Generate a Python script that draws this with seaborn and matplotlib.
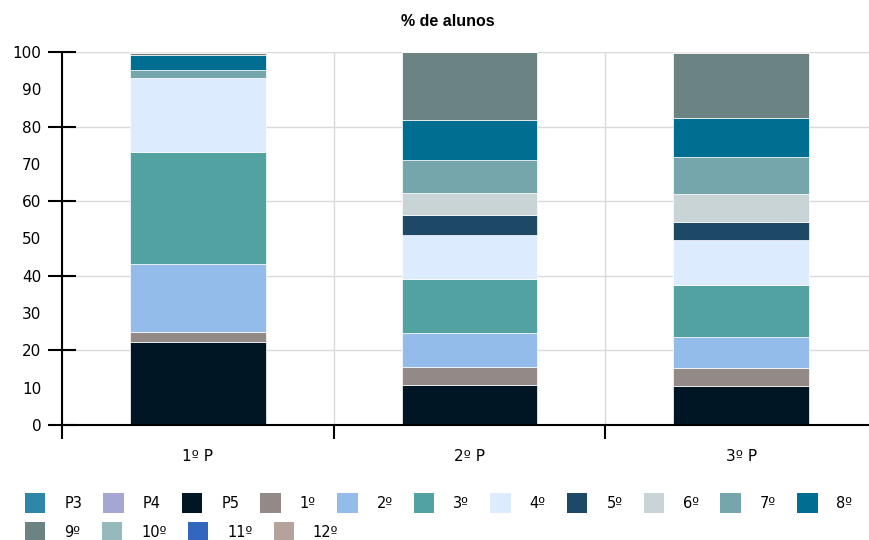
import matplotlib
matplotlib.use("Agg")
import matplotlib.pyplot as plt
import matplotlib.patches as mpatches
import numpy as np
import seaborn as sns

# categories and grade levels
periods = ["1º P", "2º P", "3º P"]
levels = ["P3", "P4", "P5", "1º", "2º", "3º", "4º", "5º", "6º", "7º", "8º",
          "9º", "10º", "11º", "12º"]

# % of students per level, one value per period
p3 = [0.0, 0.0, 0.0]
p4 = [0.0, 0.0, 0.0]
p5 = [22.3, 10.7, 10.5]
g1 = [2.7, 4.8, 4.7]
g2 = [18.2, 9.1, 8.5]
g3 = [30.1, 14.5, 13.8]
g4 = [19.6, 11.8, 12.1]
g5 = [0.0, 5.4, 4.9]
g6 = [0.0, 5.8, 7.4]
g7 = [2.4, 8.9, 9.9]
g8 = [3.9, 10.8, 10.4]
g9 = [0.6, 18.2, 17.6]
g10 = [0.0, 0.0, 0.0]
g11 = [0.0, 0.0, 0.0]
g12 = [0.2, 0.0, 0.2]

colors = ["#2E86A8", "#A6A6D2", "#001624", "#938A87", "#93BCEA", "#52A2A2",
          "#DCECFE", "#1D4866", "#C9D4D6", "#74A6AB", "#006E91", "#6B8483",
          "#96B9BD", "#3366BF", "#B5A29B"]

series = [p3, p4, p5, g1, g2, g3, g4, g5, g6, g7, g8, g9, g10, g11, g12]

sns.set_style("white")
plt.rcParams["font.family"] = ["DejaVu Sans"]
plt.rcParams["text.color"] = "black"
plt.rcParams["xtick.color"] = "black"
plt.rcParams["ytick.color"] = "black"

fig = plt.figure(figsize=(8.7, 5.4), dpi=100)
ax = fig.add_axes([62 / 870, 115 / 540, 815 / 870, 373 / 540])

bottom = np.zeros(len(periods))
for vals, c in zip(series, colors):
    sns.barplot(x=periods, y=vals, bottom=bottom, color=c, width=0.5,
                errorbar=None, edgecolor="white", linewidth=0.5, ax=ax,
                saturation=1)
    bottom = bottom + np.array(vals)

ax.set_xlim(-0.5, 2.5)
ax.set_ylim(0, 100)

# labels every 10, visible tick marks / grid every 20
ax.yaxis.remove_overlapping_locs = False
ax.set_yticks(np.arange(0, 101, 10))
ax.set_yticks(np.arange(0, 101, 20), minor=True)
ax.tick_params(axis="y", which="major", left=True, length=0, pad=15,
               labelsize=11, labelcolor="black")
ax.tick_params(axis="y", which="minor", left=True, length=20, width=1.5,
               direction="inout", color="black")

ax.set_xticks([0, 1, 2])
ax.set_xticklabels(periods)
ax.set_xticks([-0.5, 0.5, 1.5, 2.5], minor=True)
ax.tick_params(axis="x", which="major", bottom=True, length=0, pad=17,
               labelsize=11, labelcolor="black")
ax.tick_params(axis="x", which="minor", bottom=True, length=10, width=1.5,
               direction="out", color="black")

ax.grid(False)
ax.grid(True, which="minor", color="#D9D9D9", linewidth=1)
ax.set_axisbelow(True)
ax.set_xlabel("")
ax.set_ylabel("")

for side in ["top", "right"]:
    ax.spines[side].set_visible(False)
for side in ["left", "bottom"]:
    ax.spines[side].set_color("black")
    ax.spines[side].set_linewidth(1.5)

fig.text(448 / 870, 1 - 21 / 540, "% de alunos", ha="center", va="center",
         fontsize=11.5, fontweight="bold", family="Liberation Sans",
         color="black")

# legend laid out as two flowing rows
handles = [mpatches.Patch(facecolor=c, edgecolor="none") for c in colors]
leg_kw = dict(frameon=False, fontsize=10.5, handlelength=1.4,
              handleheight=1.75, handletextpad=1.3, columnspacing=1.45,
              borderpad=0, borderaxespad=0, loc="upper left",
              labelcolor="black")
fig.legend(handles[:11], levels[:11], ncol=11,
           bbox_to_anchor=(25 / 870, 1 - 493 / 540), **leg_kw)
fig.legend(handles[11:], levels[11:], ncol=4,
           bbox_to_anchor=(25 / 870, 1 - 522 / 540), **leg_kw)

fig.savefig("out.png", dpi=100)
